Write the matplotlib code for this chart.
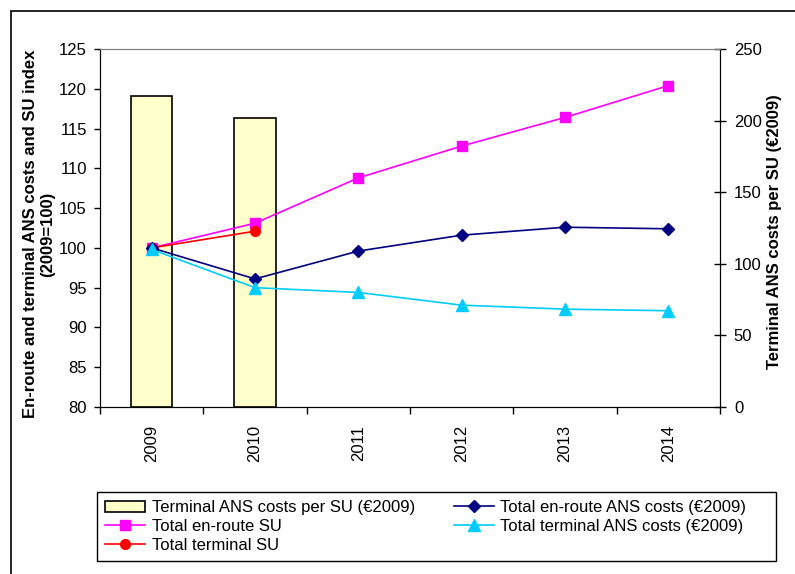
import matplotlib.pyplot as plt
from matplotlib.patches import Rectangle
import numpy as np

plt.rcParams['font.family'] = ['Liberation Sans', 'DejaVu Sans']

anios = ['2009', '2010', '2011', '2012', '2013', '2014']
coste_terminal_su = [217, 202]
su_enroute = [100, 103.1, 108.8, 112.8, 116.4, 120.4]
su_terminal = [100, 102.1]
coste_enroute = [100, 96.1, 99.6, 101.6, 102.6, 102.4]
coste_terminal = [99.8, 95.0, 94.4, 92.8, 92.3, 92.1]

x = np.arange(len(anios))

fig = plt.figure(figsize=(7.95, 5.74), dpi=100)
ax = fig.add_axes([100/795, 1-407/574, 620/795, 358/574])
ax2 = ax.twinx()

# barras detras de las lineas
ax.set_zorder(ax2.get_zorder() + 1)
ax.patch.set_visible(False)

barras = ax2.bar(x[:len(coste_terminal_su)], coste_terminal_su, width=0.4,
                 color='#FFFFCC', edgecolor='black', linewidth=1.2,
                 label='Terminal ANS costs per SU (€2009)')

l1, = ax.plot(x, su_enroute, color='#FF00FF', marker='s', markersize=7,
              linewidth=1.2, label='Total en-route SU')
l2, = ax.plot(x[:len(su_terminal)], su_terminal, color='#FF0000', marker='o',
              markersize=7, linewidth=1.2, label='Total terminal SU')
l3, = ax.plot(x, coste_enroute, color='#000080', marker='D', markersize=6.5,
              linewidth=1.2, label='Total en-route ANS costs (€2009)')
l4, = ax.plot(x, coste_terminal, color='#00CCFF', marker='^', markersize=8,
              linewidth=1.2, label='Total terminal ANS costs (€2009)')

ax.set_xlim(-0.5, 5.5)
ax.set_ylim(80, 125)
ax.set_yticks(np.arange(80, 126, 5))
ax2.set_ylim(0, 250)
ax2.set_yticks(np.arange(0, 251, 50))

ax.set_xticks(x)
ax.set_xticklabels(anios, rotation=90, va='top')
ax.set_xticks(np.arange(-0.5, 6, 1), minor=True)
ax.tick_params(axis='x', which='major', length=0, pad=13, labelsize=12)
ax.tick_params(axis='x', which='minor', length=5, width=1)
ax.tick_params(axis='y', length=4, width=1, pad=5.5, labelsize=12)
ax2.tick_params(axis='y', direction='inout', length=8, width=1, pad=6, labelsize=12)

for a in (ax, ax2):
    a.spines['top'].set_color('#808080')
    a.spines['right'].set_color('black')
    a.spines['left'].set_color('black')

fig.text(39/795, 1-234/574,
         'En-route and terminal ANS costs and SU index\n(2009=100)',
         rotation=90, ha='center', va='center', fontsize=12, fontweight='bold',
         multialignment='center')
fig.text(775/795, 1-232/574, 'Terminal ANS costs per SU (€2009)',
         rotation=90, ha='center', va='center', fontsize=12, fontweight='bold')

handles = [barras, l1, l2, l3, l4]
leg = fig.legend(handles, [h.get_label() for h in handles],
                 ncol=2, loc='upper left', frameon=False,
                 bbox_to_anchor=(97/795, 1-492/574),
                 fontsize=12, handlelength=2.4, handletextpad=0.4,
                 labelspacing=0.22, columnspacing=2.3,
                 borderaxespad=0, borderpad=0.5)

# recuadro de la leyenda
fig.add_artist(Rectangle((97/795, 1-561/574), 679/795, 69/574,
                         transform=fig.transFigure, fill=False,
                         edgecolor='black', linewidth=1))

# marco exterior
fig.add_artist(Rectangle((11/795, -0.1), 1.2, 1-11/574+0.1,
                         transform=fig.transFigure, fill=False,
                         edgecolor='black', linewidth=1.2))

fig.savefig('out.png', dpi=100)
